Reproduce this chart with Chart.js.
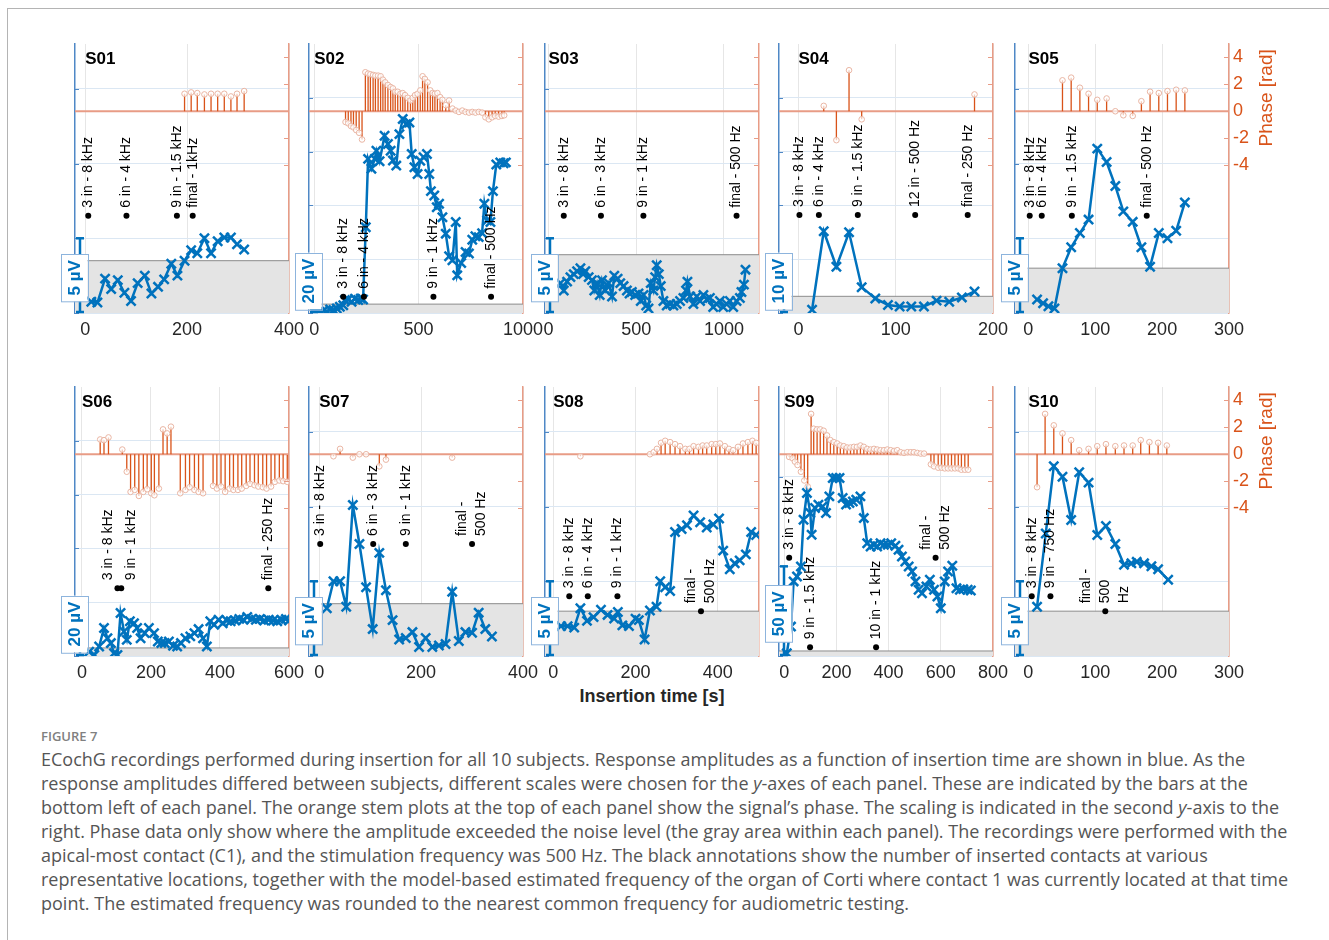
<!DOCTYPE html>
<html>
<head>
<meta charset="utf-8">
<title>ECochG recordings during insertion</title>
<script src="https://cdn.jsdelivr.net/npm/chart.js@4.4.0/dist/chart.umd.min.js"></script>
<style>
  body { margin: 0; background: #fff; width: 1329px; height: 940px; position: relative; overflow: hidden;
         font-family: "Liberation Sans", Arial, sans-serif; }
  .frame-top { position: absolute; left: 7px; top: 8px; width: 1322px; border-top: 1.5px solid #b4b4b4; }
  .frame-left { position: absolute; left: 7px; top: 8px; height: 932px; border-left: 1.5px solid #b4b4b4; }
  canvas { position: absolute; }
  #xlabel { position: absolute; left: 552px; width: 200px; top: 686px; text-align: center;
            font: bold 18px "Liberation Sans", Arial, sans-serif; color: #262626; }
  #figno { position: absolute; left: 41px; top: 727px; font: 600 13px "Open Sans", sans-serif; color: #808080; }
  .cap { position: absolute; left: 41px; white-space: nowrap; font: 18px "Open Sans", sans-serif; color: #555; line-height: 24px; }
</style>
</head>
<body>
<div class="frame-top"></div>
<div class="frame-left"></div>
<div id="xlabel">Insertion time [s]</div>
<div id="figno">FIGURE 7</div>
<div id="caption"></div>

<script>
// ---- panel-level values ----
const subjects = ['S01', 'S02', 'S03', 'S04', 'S05', 'S06', 'S07', 'S08', 'S09', 'S10'];
const timeMin = [-20, -25, -20, -20, -20, -20, -20, -20, -20, -20];
const timeMax = [400, 1000, 1200, 200, 300, 600, 400, 500, 800, 300];
const timeStep = [200, 500, 500, 100, 100, 200, 200, 200, 200, 100];
const scaleBar = [5, 20, 5, 10, 5, 20, 5, 5, 50, 5];        // µV per grid step
const ampMax = [18, 100, 18, 50, 18, 100, 18, 18, 150, 18];
const noiseLevel = [3.5, 3.3, 3.9, 3.1, 3.0, 3.0, 3.5, 3.0, 2.8, 3.0];
const phaseMin = -15, phaseMax = 5;
const phaseTicks = [-4, -2, 0, 2, 4];

// ---- amplitude (µV) vs insertion time (s) ----
const s01Time = [12, 24, 39, 51, 64, 77, 90, 103, 117, 130, 143, 155, 169, 181, 195, 208, 220, 234, 247, 260, 273, 286, 298, 312];
const s01Amp = [0.75, 0.7, 2.3, 1.6, 2.2, 1.35, 0.8, 2.0, 2.5, 1.3, 1.75, 2.25, 3.3, 2.5, 3.5, 4.2, 4.0, 5.0, 4.0, 4.8, 5.05, 5.05, 4.6, 4.25];
const s02Time = [0, 13, 28, 44, 60, 76, 92, 108, 123, 139, 147, 163, 179, 195, 211, 223, 234, 247, 258, 274, 290, 298, 313,
  337, 353, 366, 377, 393, 408, 424, 440, 456, 467, 480, 495, 508, 524, 540, 551, 559, 575, 587, 598, 614, 630, 646, 662,
  678, 685, 704, 725, 741, 757, 772, 788, 804, 815, 828, 844, 856, 872, 891, 907, 918];
const s02Amp = [0.3, 0.4, 0.2, 0.8, 0.5, 1.3, 1.1, 1.7, 2.3, 2.9, 4.8, 5.0, 4.2, 5.3, 4.8, 5.4, 5.0, 31.9, 57.3, 53.6, 57.3, 60.3, 56.4,
  65.9, 62.8, 60.3, 56.7, 54.8, 66.5, 72.1, 70.2, 70.8, 59.1, 54.2, 51.7, 56.6, 57.9, 59.1, 51.7, 45.3, 43.7, 39.3, 40.6, 35.6, 29.5, 21.1, 19.6,
  33.8, 14.0, 18.6, 22.7, 22.1, 27.2, 28.5, 28.2, 29.7, 40.6, 34.4, 33.8, 45.3, 55.2, 56.0, 55.7, 56.0];
const s03Time = [68, 87, 106, 125, 144, 163, 182, 197, 210, 229, 248, 261, 276, 292, 305, 324, 343, 362, 375, 394,
  409, 428, 447, 462, 475, 494, 513, 526, 542, 557, 570, 583, 598, 608, 617, 629, 640, 655, 674, 693,
  712, 731, 750, 769, 784, 792, 807, 826, 845, 864, 883, 902, 920, 939, 958, 977, 996, 1015, 1034, 1053, 1072, 1091, 1100, 1114, 1123];
const s03Amp = [2.0, 1.5, 2.1, 2.4, 2.6, 2.8, 3.0, 2.6, 2.8, 2.4, 2.2, 1.5, 2.0, 1.2, 2.2, 1.5, 2.0, 1.1, 2.5, 2.3,
  2.0, 1.8, 1.5, 1.3, 1.4, 1.2, 1.3, 0.8, 1.2, 0.5, 0.3, 2.0, 1.5, 2.4, 3.2, 2.6, 1.8, 0.8, 0.5, 0.6,
  0.5, 0.6, 0.8, 1.0, 1.5, 2.1, 1.1, 0.6, 1.1, 0.8, 1.2, 0.9, 1.0, 0.4, 0.6, 0.8, 0.4, 0.6, 0.8, 0.4, 0.8, 1.0, 1.4, 1.9, 2.9];
const s04Time = [14, 26, 39, 52, 65, 79, 92, 104, 116, 129, 142, 155, 168, 181];
const s04Amp = [0.6, 15.2, 8.6, 15.0, 4.8, 2.7, 1.5, 1.2, 1.2, 1.2, 2.3, 2.1, 2.9, 4.0];
const s05Time = [13, 22, 30, 39, 51, 64, 77, 90, 103, 117, 130, 142, 156, 169, 182, 195, 208, 221, 234];
const s05Amp = [0.9, 0.65, 0.45, 0.3, 3.0, 4.4, 5.35, 6.25, 11.0, 10.1, 8.5, 6.8, 6.1, 4.4, 3.1, 5.35, 5.0, 5.5, 7.4];
const s06Time = [21, 36, 50, 64, 74, 84, 93, 103, 112, 122, 130, 139, 151, 160, 170, 182, 194, 209, 220, 230,
  240, 252, 264, 276, 287, 300, 314, 326, 338, 351, 362, 372, 383, 396, 408, 420, 431, 444, 456, 468,
  479, 492, 504, 516, 528, 541, 554, 566, 578, 591, 600];
const s06Amp = [1.6, 0.4, 3.5, 10.4, 6.6, 4.8, 1.0, 0.4, 16.0, 9.1, 6.0, 12.9, 12.2, 10.4, 6.6, 8.5, 10.4, 8.5, 5.4, 4.8,
  4.8, 5.4, 3.8, 3.5, 4.8, 6.6, 7.3, 8.5, 10.0, 6.6, 3.5, 12.9, 11.6, 13.5, 12.2, 13.2, 12.9, 13.2, 13.8, 13.5,
  14.5, 13.8, 13.5, 13.8, 13.2, 13.5, 13.2, 12.9, 13.5, 13.8, 13.2];
const s07Time = [15, 28, 41, 53, 66, 79, 92, 105, 118, 131, 144, 157, 170, 183, 196, 209, 222, 235, 248, 261, 274, 287, 300, 313, 326, 339];
const s07Amp = [3.2, 5.0, 5.0, 3.3, 10.1, 7.5, 4.6, 1.8, 6.9, 4.4, 2.4, 1.1, 1.2, 1.6, 0.6, 1.2, 0.6, 0.7, 0.8, 4.3, 1.0, 1.6, 1.55, 2.9, 1.8, 1.3];
const s08Time = [19, 35, 51, 66, 82, 98, 116, 132, 148, 157, 168, 184, 200, 208, 222, 235, 251, 260, 272, 284,
  296, 312, 325, 341, 357, 373, 389, 403, 413, 429, 441, 453, 468, 481, 493];
const s08Amp = [2.0, 2.0, 1.9, 3.2, 2.35, 2.6, 3.1, 2.75, 2.5, 2.95, 2.05, 2.0, 2.5, 2.4, 1.1, 3.05, 3.3, 5.0, 4.6, 4.35,
  8.3, 8.5, 8.75, 9.4, 8.95, 8.6, 8.8, 9.2, 7.05, 5.8, 6.2, 6.4, 6.8, 8.3, 8.1];
const s09Time = [10, 26, 36, 49, 64, 74, 87, 100, 105, 118, 131, 147, 160, 173, 186, 199, 212, 224, 237, 250,
  263, 276, 292, 305, 318, 331, 344, 356, 369, 382, 397, 410, 426, 438, 451, 464, 477, 490, 503, 515,
  528, 545, 558, 574, 587, 600, 615, 628, 644, 660, 673, 686, 703, 715];
const s09Amp = [1.5, 16.4, 41.6, 44.3, 49.9, 76, 90.9, 79.7, 67.6, 82.5, 84.4, 83.4, 79.7, 89, 99.3, 99.3, 99.3, 88.1, 84.4, 85.3,
  86.2, 87.2, 89, 76.9, 62.9, 61.1, 62, 61.1, 62.9, 62, 62, 62.9, 61.5, 59.2, 55.5, 52.7, 49.9, 47.1, 41.6, 36.9,
  35, 38.8, 42.5, 36.9, 33.2, 26.6, 41.6, 47.1, 50.3, 37.8, 36.9, 37.3, 36.9, 36.5];
const s10Time = [13, 26, 38, 51, 64, 76, 90, 103, 116, 130, 143, 154, 162, 173, 184, 194, 209];
const s10Amp = [3.3, 8.2, 12.7, 12.0, 9.1, 12.3, 11.6, 8.1, 8.7, 7.5, 6.1, 6.2, 6.3, 6.2, 6.0, 5.8, 5.1];

// ---- phase (rad), only where amplitude exceeded noise ----
const s01PhaseTime = [195, 208, 220, 234, 247, 260, 273, 286, 298, 312];
const s01Phase = [1.3, 1.4, 1.35, 1.25, 1.3, 1.3, 1.3, 1.1, 1.3, 1.5];
const s02PhaseTime = [150, 163, 176, 188, 201, 215, 229, 245, 258, 269, 282, 293, 306, 318, 329, 340, 353,
  366, 377, 388, 400, 413, 424, 435, 448, 461, 472, 483, 495, 508, 519, 530, 543, 556, 567, 578, 590,
  603, 614, 630, 646, 662, 678, 693, 709, 725, 741, 757, 772, 788, 804, 820, 836, 852, 867, 883, 899, 910];
const s02Phase = [-0.8, -0.9, -1.1, -1.2, -1.4, -1.6, -2.1, 2.9, 2.8, 2.75, 2.7, 2.65, 2.65, 2.6, 2.35, 2.15, 1.95,
  1.8, 1.7, 1.45, 1.45, 1.3, 1.35, 1.2, 1.0, 0.8, 1.0, 1.2, 1.3, 1.55, 2.6, 2.4, 2.15, 1.55, 1.35, 1.3, 1.35,
  1.05, 0.85, 0.45, 0.8, 0.2, 0.05, -0.05, 0.05, -0.05, -0.1, -0.05, -0.1, -0.05, -0.1, -0.45, -0.6, -0.45, -0.35, -0.4, -0.35, -0.3];
const s03PhaseTime = [];
const s03Phase = [];
const s04PhaseTime = [26, 39, 52, 65, 181];
const s04Phase = [0.4, -2.15, 3.05, -0.6, 1.25];
const s05PhaseTime = [51, 64, 77, 90, 103, 117, 130, 142, 156, 169, 182, 195, 208, 221, 234];
const s05Phase = [2.3, 2.5, 1.75, 1.3, 0.85, 0.95, 0.0, -0.3, -0.35, 0.75, 1.45, 1.35, 1.5, 1.6, 1.55];
const s06PhaseTime = [53, 64, 77, 117, 130, 141, 153, 165, 178, 189, 201, 210, 223, 235, 247, 258, 285, 300, 312, 326,
  338, 351, 380, 391, 403, 415, 428, 439, 452, 463, 476, 487, 500, 511, 524, 535, 548, 559, 572, 583, 595];
const s06Phase = [1.1, 1.05, 1.25, 0.35, -1.3, -2.8, -2.65, -3.1, -2.8, -2.6, -2.9, -3.05, -2.55, 1.85, 1.55, 2.05, -2.9, -2.65, -2.45, -2.65,
  -2.8, -2.9, -2.35, -2.55, -2.4, -2.8, -2.55, -2.65, -2.65, -2.55, -2.35, -2.2, -2.3, -2.4, -2.45, -2.55, -2.4, -2.05, -1.95, -2.0, -2.05];
const s07PhaseTime = [28, 41, 66, 79, 92, 118, 131, 261];
const s07Phase = [-0.15, 0.4, -0.25, 0.0, 0.0, -0.9, -0.4, -0.25];
const s08PhaseTime = [66, 235, 244, 252, 262, 272, 284, 296, 308, 321, 331, 341, 353, 363, 373, 385, 395, 405, 417, 427,
  437, 449, 461, 473, 484, 493];
const s08Phase = [-0.15, 0.0, 0.15, 0.4, 0.85, 1.0, 0.9, 0.75, 0.6, 0.4, 0.4, 0.6, 0.55, 0.65, 0.65, 0.75, 0.75, 0.8, 0.6, 0.4,
  0.3, 0.55, 0.8, 0.9, 1.0, 0.85];
const s09PhaseTime = [19, 32, 41, 51, 64, 77, 90, 103, 113, 126, 138, 151, 164, 177, 190, 203, 215, 228, 241, 254, 267, 279,
  292, 305, 318, 331, 344, 356, 369, 382, 395, 408, 421, 433, 446, 459, 472, 485, 497, 510, 523, 536,
  562, 574, 590, 603, 615, 628, 641, 654, 667, 679, 692, 705];
const s09Phase = [-0.2, -0.3, -0.55, -0.8, -1.3, -1.95, -2.4, 3.0, 1.9, 1.85, 1.85, 1.75, 1.4, 1.05, 0.9, 0.8, 0.65, 0.6, 0.5, 0.5, 0.55, 0.55,
  0.65, 0.55, 0.4, 0.35, 0.4, 0.35, 0.3, 0.3, 0.35, 0.3, 0.25, 0.3, 0.15, 0.1, 0.15, 0.15, 0.15, 0.1, 0.05, 0.05,
  -0.75, -0.9, -1.0, -1.0, -1.05, -1.05, -1.05, -1.05, -1.05, -1.15, -1.15, -1.15];
const s10PhaseTime = [13, 25, 38, 51, 64, 76, 90, 103, 116, 130, 143, 156, 168, 181, 194, 207];
const s10Phase = [-2.45, 3.0, 2.15, 1.55, 1.05, 0.3, 0.4, 0.6, 0.75, 0.6, 0.65, 0.65, 1.05, 0.9, 0.85, 0.65];

// ---- black annotations: inserted contacts / estimated frequency ----
const s01MarkTime = [6, 81, 180, 211];
const s01MarkAmp = [6.5, 6.5, 6.5, 6.5];
const s01MarkText = ['3 in - 8 kHz', '6 in - 4 kHz', '9 in - 1.5 kHz', 'final - 1kHz'];
const s02MarkTime = [139, 238, 571, 847];
const s02MarkAmp = [6, 6, 6, 6];
const s02MarkText = ['3 in - 8 kHz', '6 in - 4 kHz', '9 in - 1 kHz', 'final - 500 Hz'];
const s03MarkTime = [87, 299, 541, 1072];
const s03MarkAmp = [6.5, 6.5, 6.5, 6.5];
const s03MarkText = ['3 in - 8 kHz', '6 in - 3 kHz', '9 in - 1 kHz', 'final - 500 Hz'];
const s04MarkTime = [1, 21, 61, 120, 174];
const s04MarkAmp = [18.2, 18.2, 18.2, 18.2, 18.2];
const s04MarkText = ['3 in - 8 kHz', '6 in - 4 kHz', '9 in - 1.5 kHz', '12 in - 500 Hz', 'final - 250 Hz'];
const s05MarkTime = [2, 20, 65, 177];
const s05MarkAmp = [6.5, 6.5, 6.5, 6.5];
const s05MarkText = ['3 in - 8 kHz', '6 in - 4 kHz', '9 in - 1.5 kHz', 'final - 500 Hz'];
const s06MarkTime = [103, 114, 540];
const s06MarkAmp = [25.2, 25.2, 25.2];
const s06MarkText = ['3 in - 8 kHz', '9 in - 1 kHz', 'final - 250 Hz'];
const s07MarkTime = [2, 106, 170, 300];
const s07MarkAmp = [7.5, 7.5, 7.5, 7.5];
const s07MarkText = ['3 in - 8 kHz', '6 in - 3 kHz', '9 in - 1 kHz', 'final -\n500 Hz'];
const s08MarkTime = [39, 84, 156, 359];
const s08MarkAmp = [4, 4, 4, 3];
const s08MarkText = ['3 in - 8 kHz', '6 in - 4 kHz', '9 in - 1 kHz', 'final -\n500 Hz'];
const s09MarkTime = [19, 99, 352, 580];
const s09MarkAmp = [54.8, 4.85, 4.85, 54.8];
const s09MarkText = ['3 in - 8 kHz', '9 in - 1.5 kHz', '10 in - 1 kHz', 'final -\n500 Hz'];
const s10MarkTime = [5, 33, 115];
const s10MarkAmp = [4, 4, 3];
const s10MarkText = ['3 in - 8 kHz', '9 in - 750 Hz', 'final -\n500\nHz'];

const ampTime = [s01Time, s02Time, s03Time, s04Time, s05Time, s06Time, s07Time, s08Time, s09Time, s10Time];
const amp = [s01Amp, s02Amp, s03Amp, s04Amp, s05Amp, s06Amp, s07Amp, s08Amp, s09Amp, s10Amp];
const phaseTime = [s01PhaseTime, s02PhaseTime, s03PhaseTime, s04PhaseTime, s05PhaseTime, s06PhaseTime, s07PhaseTime, s08PhaseTime, s09PhaseTime, s10PhaseTime];
const phase = [s01Phase, s02Phase, s03Phase, s04Phase, s05Phase, s06Phase, s07Phase, s08Phase, s09Phase, s10Phase];
const markTime = [s01MarkTime, s02MarkTime, s03MarkTime, s04MarkTime, s05MarkTime, s06MarkTime, s07MarkTime, s08MarkTime, s09MarkTime, s10MarkTime];
const markAmp = [s01MarkAmp, s02MarkAmp, s03MarkAmp, s04MarkAmp, s05MarkAmp, s06MarkAmp, s07MarkAmp, s08MarkAmp, s09MarkAmp, s10MarkAmp];
const markText = [s01MarkText, s02MarkText, s03MarkText, s04MarkText, s05MarkText, s06MarkText, s07MarkText, s08MarkText, s09MarkText, s10MarkText];

const captionLines = [
  'ECochG recordings performed during insertion for all 10 subjects. Response amplitudes as a function of insertion time are shown in blue. As the',
  'response amplitudes differed between subjects, different scales were chosen for the <i>y</i>-axes of each panel. These are indicated by the bars at the',
  'bottom left of each panel. The orange stem plots at the top of each panel show the signal\u2019s phase. The scaling is indicated in the second <i>y</i>-axis to the',
  'right. Phase data only show where the amplitude exceeded the noise level (the gray area within each panel). The recordings were performed with the',
  'apical-most contact (C1), and the stimulation frequency was 500 Hz. The black annotations show the number of inserted contacts at various',
  'representative locations, together with the model-based estimated frequency of the organ of Corti where contact 1 was currently located at that time',
  'point. The estimated frequency was rounded to the nearest common frequency for audiometric testing.'
];

// ---- layout ----
const colLeft = [75, 309, 545, 779, 1015];
const rowTop = [44, 387];
const plotW = 214, plotH = 269;
const padL = 45, padR = 62, padT = 16, padB = 45;

const FONT = '"Liberation Sans", Arial, sans-serif';
const BLUE = '#0072BD';
const ORANGE = '#D95319';
const AMP_AXIS = '#4f88c6';
const PHASE_AXIS = '#e89c86';

const capBox = document.getElementById('caption');
captionLines.forEach((ln, k) => {
  const d = document.createElement('div');
  d.className = 'cap';
  d.style.top = (747 + k * 24) + 'px';
  d.innerHTML = ln;
  capBox.appendChild(d);
});

function line(ctx, x1, y1, x2, y2) {
  ctx.beginPath();
  ctx.moveTo(x1, y1);
  ctx.lineTo(x2, y2);
  ctx.stroke();
}

const decor = {
  id: 'decor',
  afterDatasetsDraw(chart, args, opts) {
    const i = opts.index;
    const { ctx, chartArea: a } = chart;
    const sx = chart.scales.x, sy = chart.scales.y, sp = chart.scales.yp;
    ctx.save();

    // inward tick marks on both y axes
    ctx.lineWidth = 1;
    ctx.strokeStyle = AMP_AXIS;
    sy.ticks.forEach(t => {
      const py = Math.round(sy.getPixelForValue(t.value)) + 0.5;
      line(ctx, a.left, py, a.left + 4, py);
    });
    ctx.strokeStyle = PHASE_AXIS;
    sp.ticks.forEach(t => {
      const py = Math.round(sp.getPixelForValue(t.value)) + 0.5;
      line(ctx, a.right - 5, py, a.right, py);
    });

    // subject name
    ctx.fillStyle = '#000';
    ctx.font = 'bold 17px ' + FONT;
    ctx.textBaseline = 'middle';
    ctx.textAlign = 'left';
    ctx.fillText(subjects[i], sx.getPixelForValue(0), a.top + 15);

    // rotated annotation labels above the black dots
    ctx.font = '14px ' + FONT;
    const xs = markTime[i].map(t => sx.getPixelForValue(t));
    const cx = xs.slice();
    for (let k = 1; k < xs.length; k++) {
      if (Math.abs(xs[k] - xs[k - 1]) < 10) {
        const m = (xs[k] + xs[k - 1]) / 2;
        cx[k - 1] = m - 11.5;
        cx[k] = m + 11.5;
      }
    }
    markText[i].forEach((txt, k) => {
      const parts = txt.split('\n');
      const py = sy.getPixelForValue(markAmp[i][k]);
      parts.forEach((p, j) => {
        ctx.save();
        ctx.translate(cx[k] + (j - (parts.length - 1) / 2) * 19, py - 8);
        ctx.rotate(-Math.PI / 2);
        ctx.fillText(p, 0, 0);
        ctx.restore();
      });
    });

    // scale bar with its label box
    const bx = a.left + 5;
    const y0 = sy.getPixelForValue(0), y1 = sy.getPixelForValue(scaleBar[i]);
    ctx.strokeStyle = BLUE;
    ctx.lineWidth = 2.5;
    line(ctx, bx, y0, bx, y1);
    line(ctx, bx - 4, y1, bx + 4, y1);
    line(ctx, bx - 4, y0 - 1, bx + 4, y0 - 1);

    const label = scaleBar[i] + ' \u00b5V';
    ctx.font = 'bold 17px ' + FONT;
    const bh = ctx.measureText(label).width + 12, bw = 27;
    const cyb = y0 - Math.max(32, (y0 - y1) * 0.47);
    const cxb = a.left - 1;
    ctx.fillStyle = '#fff';
    ctx.fillRect(cxb - bw / 2, cyb - bh / 2, bw, bh);
    ctx.strokeStyle = '#8db4dd';
    ctx.lineWidth = 1;
    ctx.strokeRect(Math.round(cxb - bw / 2) + 0.5, Math.round(cyb - bh / 2) + 0.5, bw, bh);
    ctx.save();
    ctx.translate(cxb, cyb);
    ctx.rotate(-Math.PI / 2);
    ctx.fillStyle = BLUE;
    ctx.textAlign = 'center';
    ctx.fillText(label, 0, 1);
    ctx.restore();

    // phase axis title on the rightmost panels
    if (i % 5 === 4) {
      ctx.save();
      ctx.translate(a.right + 38, sp.getPixelForValue(1));
      ctx.rotate(-Math.PI / 2);
      ctx.fillStyle = ORANGE;
      ctx.font = '19px ' + FONT;
      ctx.textAlign = 'center';
      ctx.fillText('Phase [rad]', 0, 0);
      ctx.restore();
    }
    ctx.restore();
  }
};

function ticksEvery(step, min, max) {
  const out = [];
  for (let v = Math.ceil(min / step) * step; v <= max + 1e-9; v += step) out.push({ value: v });
  return out;
}

subjects.forEach((name, i) => {
  const canvas = document.createElement('canvas');
  const w = plotW + padL + padR, h = plotH + padT + padB;
  canvas.width = w;
  canvas.height = h;
  canvas.style.left = (colLeft[i % 5] - padL) + 'px';
  canvas.style.top = (rowTop[Math.floor(i / 5)] - padT) + 'px';
  canvas.style.width = w + 'px';
  canvas.style.height = h + 'px';
  document.body.appendChild(canvas);

  const showPhase = i % 5 === 4;
  const xMin = timeMin[i], xMax = timeMax[i];

  new Chart(canvas.getContext('2d'), {
    type: 'line',
    data: {
      datasets: [
        {
          label: 'noise',
          data: [{ x: xMin, y: noiseLevel[i] }, { x: xMax, y: noiseLevel[i] }],
          yAxisID: 'y',
          borderColor: '#8c8c8c',
          borderWidth: 1,
          backgroundColor: '#e4e4e4',
          fill: 'start',
          pointRadius: 0,
          order: 10
        },
        {
          label: 'phase zero',
          data: [{ x: xMin, y: 0 }, { x: xMax, y: 0 }],
          yAxisID: 'yp',
          borderColor: PHASE_AXIS,
          borderWidth: 2,
          pointRadius: 0,
          order: 8
        },
        {
          label: 'phase stems',
          data: phaseTime[i].flatMap((t, k) => [{ x: t, y: 0 }, { x: t, y: phase[i][k] }, { x: t, y: null }]),
          yAxisID: 'yp',
          borderColor: ORANGE,
          borderWidth: 1.3,
          pointRadius: 0,
          spanGaps: false,
          order: 7
        },
        {
          label: 'phase',
          data: phaseTime[i].map((t, k) => ({ x: t, y: phase[i][k] })),
          yAxisID: 'yp',
          showLine: false,
          pointRadius: 2.8,
          pointBorderWidth: 1,
          pointBorderColor: '#e9b5a3',
          pointBackgroundColor: 'rgba(255,255,255,0.7)',
          order: 6
        },
        {
          label: 'amplitude',
          data: ampTime[i].map((t, k) => ({ x: t, y: amp[i][k] })),
          yAxisID: 'y',
          borderColor: BLUE,
          borderWidth: 2.5,
          pointStyle: 'crossRot',
          pointRadius: 6.5,
          pointBorderWidth: 2.5,
          pointBorderColor: BLUE,
          order: 2
        },
        {
          label: 'annotations',
          data: markTime[i].map((t, k) => ({ x: t, y: markAmp[i][k] })),
          yAxisID: 'y',
          showLine: false,
          pointRadius: 3,
          pointBorderWidth: 0,
          pointBackgroundColor: '#000',
          order: 1
        }
      ]
    },
    options: {
      responsive: false,
      animation: false,
      events: [],
      layout: { padding: { left: padL, right: 0, top: padT, bottom: 0 } },
      plugins: {
        legend: { display: false },
        tooltip: { enabled: false },
        decor: { index: i }
      },
      scales: {
        x: {
          type: 'linear',
          min: xMin,
          max: xMax,
          afterBuildTicks: s => { s.ticks = ticksEvery(timeStep[i], 0, xMax); },
          afterFit: s => { s.height = padB; },
          grid: { color: '#e6e6e6', drawTicks: false },
          border: { display: false },
          ticks: { color: '#262626', font: { size: 18, family: FONT }, padding: 6, maxRotation: 0, autoSkip: false, callback: v => String(v) }
        },
        y: {
          position: 'left',
          min: 0,
          max: ampMax[i],
          afterBuildTicks: s => { s.ticks = ticksEvery(scaleBar[i], 0, ampMax[i] - 0.01); },
          afterFit: s => { s.width = 0; },
          grid: { color: '#dbe7f3', drawTicks: false },
          border: { color: AMP_AXIS, width: 1.5 },
          ticks: { display: false }
        },
        yp: {
          position: 'right',
          min: phaseMin,
          max: phaseMax,
          afterBuildTicks: s => { s.ticks = phaseTicks.map(v => ({ value: v })); },
          afterFit: s => { s.width = padR; },
          grid: { drawOnChartArea: false, drawTicks: false },
          border: { color: PHASE_AXIS, width: 1.5 },
          ticks: { display: showPhase, color: ORANGE, font: { size: 18, family: FONT }, padding: 4, callback: v => String(v) }
        }
      }
    },
    plugins: [decor]
  });
});
</script>
</body>
</html>
